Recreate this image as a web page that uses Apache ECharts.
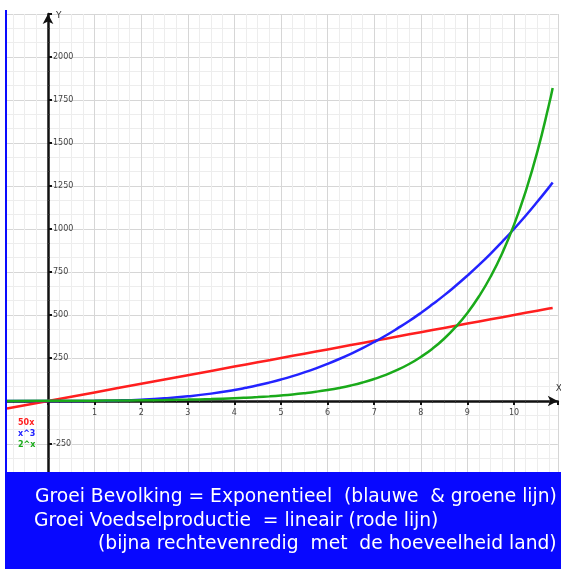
<!DOCTYPE html>
<html>
<head>
<meta charset="utf-8">
<script src="https://cdn.jsdelivr.net/npm/echarts@6/dist/echarts.min.js"></script>
<style>html,body{margin:0;padding:0;background:#fff;}#c{width:561px;height:569px;}</style>
</head>
<body>
<div id="c"></div>
<script>
// x sample points
const xValues = [-0.88, 0, 0.5, 1, 1.5, 2, 2.5, 3, 3.5,
  4, 4.25, 4.5, 4.75, 5, 5.25, 5.5, 5.75, 6, 6.25, 6.5, 6.75, 7, 7.25, 7.5, 7.75,
  8, 8.25, 8.5, 8.75, 9, 9.25, 9.5, 9.75, 10, 10.25, 10.5, 10.75, 10.83];
const redValues = [-44, 0, 25, 50, 75, 100, 125, 150, 175,
  200, 212.5, 225, 237.5, 250, 262.5, 275, 287.5, 300, 312.5, 325, 337.5, 350, 362.5, 375, 387.5,
  400, 412.5, 425, 437.5, 450, 462.5, 475, 487.5, 500, 512.5, 525, 537.5, 541];
const blueValues = [-0.7, 0, 0.1, 1, 3.4, 8, 15.6, 27, 42.9,
  64, 76.8, 91.1, 107.2, 125, 144.7, 166.4, 190.1, 216, 244.1, 274.6, 307.5, 343, 381, 422, 465,
  512, 562, 614, 670, 729, 791, 857, 927, 1000, 1077, 1158, 1242, 1270];
const greenValues = [0.5, 1, 1.4, 2, 2.8, 4, 5.7, 8, 11.3,
  16, 19, 22.6, 26.9, 32, 38, 45.3, 53.8, 64, 76.1, 90.5, 107.6, 128, 152, 181, 215,
  256, 304, 362, 431, 512, 609, 724, 861, 1024, 1218, 1448, 1722, 1820];
const seriesNames = ['50x', 'x^3', '2^x'];
const xTickLabels = ['1','2','3','4','5','6','7','8','9','10'];
const yTickLabels = ['2000','1750','1500','1250','1000','750','500','250','-250'];
const bannerLines = [
  'Groei Bevolking = Exponentieel  (blauwe  & groene lijn)',
  'Groei Voedselproductie  = lineair (rode lijn)',
  '(bijna rechtevenredig  met  de hoeveelheid land)'
];

const pairs = (ys) => xValues.map((x, i) => [x, ys[i]]);
const colors = ['#ff1f1f', '#2323ff', '#1aaa1a'];

const chart = echarts.init(document.getElementById('c'), null, {renderer: 'canvas'});
chart.setOption({
  animation: false,
  backgroundColor: '#fff',
  grid: {left: 1.4, right: 3.2, top: 14, bottom: 82, containLabel: false, outerBoundsMode: 'none'},
  legend: {
    orient: 'vertical', left: 13, top: 419, itemWidth: 0, itemHeight: 0, itemGap: 3,
    padding: 0, icon: 'rect', selectedMode: false,
    data: seriesNames.map((n, i) => ({name: n, textStyle: {color: colors[i]}})),
    textStyle: {fontSize: 8, fontWeight: 'bold', fontFamily: 'DejaVu Sans', padding: 0}
  },
  xAxis: {
    type: 'value', min: -1, max: 10.94, interval: 1, position: 'bottom', offset: -86,
    name: 'X', nameLocation: 'end', nameGap: -2,
    nameTextStyle: {fontSize: 9, color: '#333', verticalAlign: 'bottom', padding: [0,0,8,0], fontFamily: 'DejaVu Sans'},
    axisLine: {onZero: false, lineStyle: {color: '#111', width: 2.5}, symbol: ['none', 'arrow'], symbolSize: [8, 10]},
    axisTick: {show: true, length: 4, lineStyle: {color: '#111', width: 2}},
    minorTick: {show: true, splitNumber: 4, length: 2, lineStyle: {color: '#333'}},
    axisLabel: {
      fontSize: 8, color: '#444', margin: 8, fontFamily: 'DejaVu Sans',
      formatter: (v) => { const s = String(Math.round(v)); return xTickLabels.includes(s) && Math.abs(v - Math.round(v)) < 1e-6 ? s : ''; }
    },
    splitLine: {show: true, lineStyle: {color: '#d6d6d6', width: 1}},
    minorSplitLine: {show: true, lineStyle: {color: '#ededed', width: 1}}
  },
  yAxis: {
    type: 'value', min: -500, max: 2250, interval: 250, position: 'left', offset: -46.6,
    name: 'Y', nameLocation: 'end', nameGap: -2,
    nameTextStyle: {fontSize: 9, color: '#333', align: 'left', verticalAlign: 'middle', padding: [0,0,0,8], fontFamily: 'DejaVu Sans'},
    axisLine: {onZero: false, lineStyle: {color: '#111', width: 2.5}, symbol: ['none', 'arrow'], symbolSize: [8, 10]},
    axisTick: {show: true, inside: true, length: 4, lineStyle: {color: '#111', width: 2}},
    minorTick: {show: true, splitNumber: 3, length: 2, lineStyle: {color: '#333'}},
    axisLabel: {
      inside: true, fontSize: 8, color: '#444', margin: 5, fontFamily: 'DejaVu Sans',
      formatter: (v) => { const s = String(Math.round(v)); return yTickLabels.includes(s) ? s : ''; }
    },
    splitLine: {show: true, lineStyle: {color: '#d6d6d6', width: 1}},
    minorSplitLine: {show: true, lineStyle: {color: '#ededed', width: 1}}
  },
  series: [
    {name: seriesNames[0], type: 'line', data: pairs(redValues), showSymbol: false, lineStyle: {color: colors[0], width: 2.5}, itemStyle: {color: colors[0]}, z: 3},
    {name: seriesNames[1], type: 'line', data: pairs(blueValues), smooth: true, showSymbol: false, lineStyle: {color: colors[1], width: 2.5}, itemStyle: {color: colors[1]}, z: 4},
    {name: seriesNames[2], type: 'line', data: pairs(greenValues), smooth: true, showSymbol: false, lineStyle: {color: colors[2], width: 2.5}, itemStyle: {color: colors[2]}, z: 5}
  ],
  graphic: [
    {type: 'rect', z: 100, shape: {x: 0, y: 0, width: 5, height: 569}, style: {fill: '#fff'}},
    {type: 'rect', z: 101, shape: {x: 5, y: 10, width: 2, height: 470}, style: {fill: '#0a0aff'}},
    {type: 'rect', z: 102, shape: {x: 5, y: 472, width: 556, height: 97}, style: {fill: '#0808ff'}},
    {type: 'text', z: 103, left: 35, top: 488, style: {text: bannerLines[0], fill: '#fff', font: '18.7px "DejaVu Sans"'}},
    {type: 'text', z: 103, left: 34, top: 512, style: {text: bannerLines[1], fill: '#fff', font: '18.7px "DejaVu Sans"'}},
    {type: 'text', z: 103, left: 98, top: 535, style: {text: bannerLines[2], fill: '#fff', font: '18.7px "DejaVu Sans"'}}
  ]
});
</script>
</body>
</html>
